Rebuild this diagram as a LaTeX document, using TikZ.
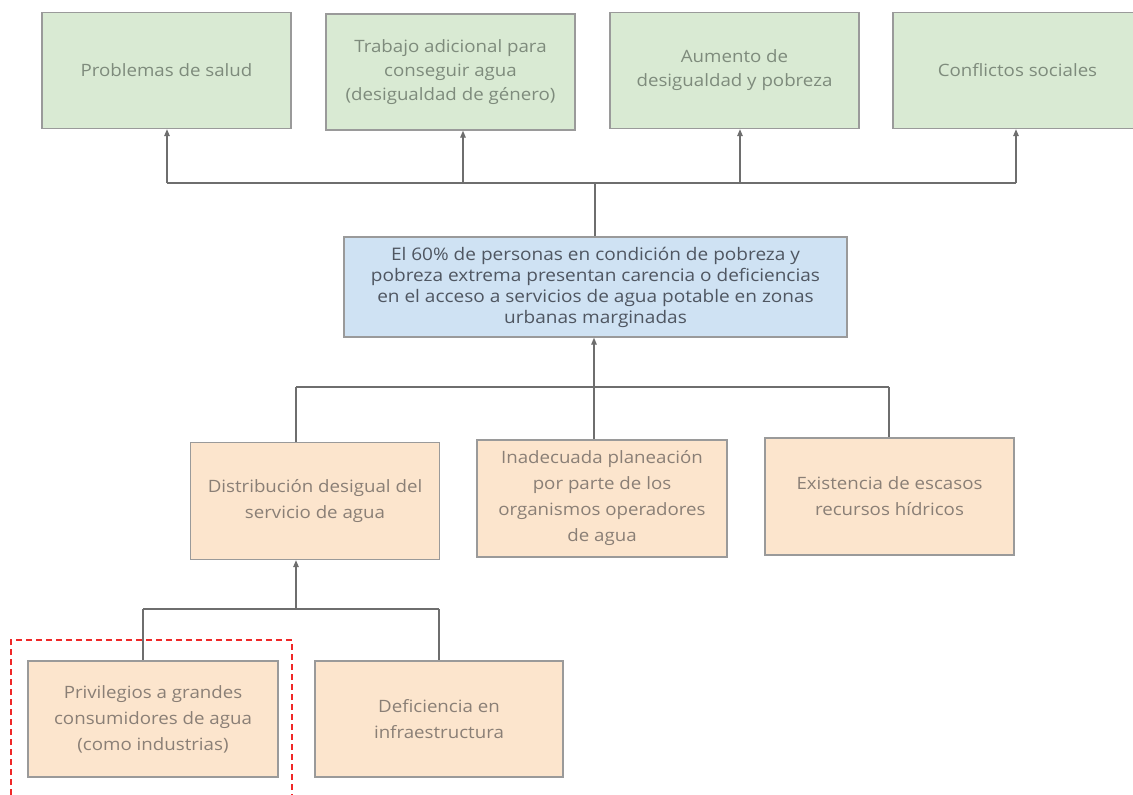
\documentclass[tikz,border=0pt]{standalone}
\usepackage{fontspec}
\setmainfont{Open Sans}[FakeStretch=1.1]
\usetikzlibrary{arrows.meta}

\definecolor{efectofill}{HTML}{D9EAD3}
\definecolor{problemafill}{HTML}{CFE2F3}
\definecolor{causafill}{HTML}{FCE5CD}
\definecolor{bordegris}{HTML}{9A9A9A}
\definecolor{lineagris}{HTML}{6E6E6E}
\definecolor{textoverde}{HTML}{7E8B7C}
\definecolor{textoazul}{HTML}{4F5661}
\definecolor{textonaranja}{HTML}{8A7F76}
\definecolor{rojomarca}{HTML}{F02828}

\tikzset{
  caja/.style={draw=bordegris, line width=1.3pt, inner sep=0pt,
    minimum width=249pt, minimum height=116pt, align=center},
  efecto/.style={caja, fill=efectofill, text=textoverde,
    font=\fontsize{17}{24}\selectfont},
  problema/.style={caja, fill=problemafill, text=textoazul,
    minimum width=503pt, minimum height=100pt,
    font=\fontsize{17.3}{21}\selectfont},
  causa/.style={caja, fill=causafill, text=textonaranja,
    font=\fontsize{17}{26}\selectfont},
  linea/.style={draw=lineagris, line width=1.3pt},
  flecha/.style={linea, -{Triangle[length=7pt,width=5.5pt]}},
}

\begin{document}
\begin{tikzpicture}[x=1pt, y=-1pt]
    \useasboundingbox (0,0) rectangle (1133,795);

    % efectos
    \node[efecto] (salud) at (166.5, 70.5) {Problemas de salud};
    \node[efecto] (trabajo) at (450.5, 72) {Trabajo adicional para\\ conseguir agua\\ (desigualdad de género)};
    \node[efecto] (pobreza) at (734.5, 70.5) {Aumento de\\ desigualdad y pobreza};
    \node[efecto] (conflictos) at (1017.5, 70.5) {Conflictos sociales};

    % problema central
    \node[problema] (central) at (595.5, 287) {El 60\% de personas en condición de pobreza y\\ pobreza extrema presentan carencia o deficiencias\\ en el acceso a servicios de agua potable en zonas\\ urbanas marginadas};

    % causas
    \node[causa, minimum height=117pt] (distribucion) at (315, 501) {Distribución desigual del\\ servicio de agua};
    \node[causa, minimum width=250pt, minimum height=117pt] (planeacion) at (602, 498.5) {Inadecuada planeación\\ por parte de los\\ organismos operadores\\ de agua};
    \node[causa, minimum height=117pt] (escasos) at (889.5, 496.5) {Existencia de escasos\\ recursos hídricos};

    % subcausas
    \node[causa, minimum width=250pt] (privilegios) at (153, 719) {Privilegios a grandes\\ consumidores de agua\\ (como industrias)};
    \node[causa, minimum width=248pt] (infraestructura) at (439, 719) {Deficiencia en\\ infraestructura};

    % conexiones superiores
    \coordinate (jsup) at (595, 183);
    \coordinate (b1) at (167, 183);
    \coordinate (b2) at (463, 183);
    \coordinate (b3) at (740, 183);
    \coordinate (b4) at (1016, 183);
    \draw[linea] (central.north -| jsup) -- (jsup);
    \draw[linea] (b1) -- (b4);
    \draw[flecha] (b1) -- (b1 |- salud.south);
    \draw[flecha] (b2) -- (b2 |- trabajo.south);
    \draw[flecha] (b3) -- (b3 |- pobreza.south);
    \draw[flecha] (b4) -- (b4 |- conflictos.south);

    % conexiones medias
    \coordinate (m1) at (296, 387);
    \coordinate (m2) at (594, 387);
    \coordinate (m3) at (889, 387);
    \draw[linea] (m1) -- (m3);
    \draw[linea] (m1) -- (m1 |- distribucion.north);
    \draw[linea] (m2) -- (m2 |- planeacion.north);
    \draw[linea] (m3) -- (m3 |- escasos.north);
    \draw[flecha] (m2) -- (m2 |- central.south);

    % conexiones inferiores
    \coordinate (i0) at (296, 609);
    \coordinate (i1) at (143, 609);
    \coordinate (i2) at (439, 609);
    \draw[linea] (i1) -- (i2);
    \draw[linea] (i1) -- (i1 |- privilegios.north);
    \draw[linea] (i2) -- (i2 |- infraestructura.north);
    \draw[flecha] (i0) -- (i0 |- distribucion.south);

    % marca roja
    \draw[rojomarca, line width=1.6pt, dash pattern=on 6pt off 4pt] (11,795) -- (11,640) -- (292,640) -- (292,795);
\end{tikzpicture}
\end{document}
